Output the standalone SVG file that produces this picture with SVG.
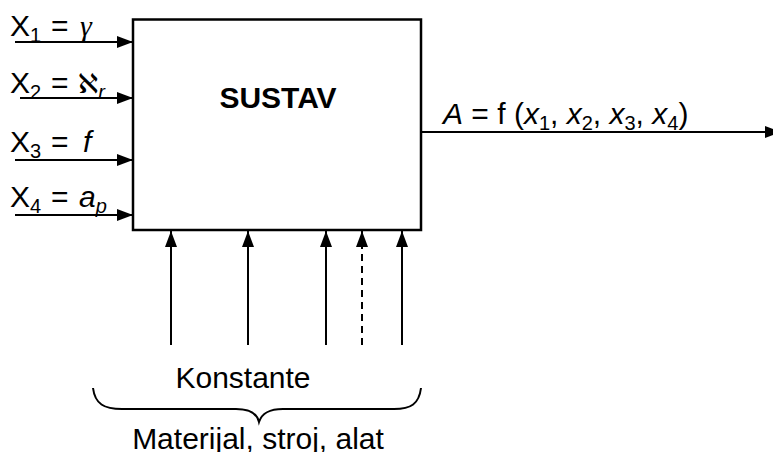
<svg xmlns="http://www.w3.org/2000/svg" width="773" height="452" viewBox="0 0 773 452">
<style>
.t{font-family:"Liberation Sans",Arial,sans-serif;font-size:30px;fill:#000}
.sub{font-size:20px}
.it{font-style:italic}
.ln{stroke:#000;stroke-width:2;fill:none}
</style>
<defs>
<marker id="ah" viewBox="0 0 16 12" refX="16" refY="6" markerWidth="16" markerHeight="12" markerUnits="userSpaceOnUse" orient="auto">
<path d="M0,0 L16,6 L0,12 z" fill="#000"/>
</marker>
</defs>
<rect width="773" height="452" fill="#fff"/>
<g id="sustav">
<rect x="133" y="19.5" width="288" height="210.5" fill="#fff" stroke="#000" stroke-width="2.5"/>
<text x="278" y="108" text-anchor="middle" style="font-family:'Liberation Sans',Arial,sans-serif;font-size:30px;font-weight:bold">SUSTAV</text>
</g>
<g id="connectors">
<line class="ln" x1="15" y1="42" x2="133" y2="42" marker-end="url(#ah)"/>
<line class="ln" x1="20" y1="98" x2="133" y2="98" marker-end="url(#ah)"/>
<line class="ln" x1="15" y1="160" x2="133" y2="160" marker-end="url(#ah)"/>
<line class="ln" x1="15" y1="215" x2="133" y2="215" marker-end="url(#ah)"/>
<line class="ln" x1="421" y1="132" x2="781" y2="132" marker-end="url(#ah)"/>
<line class="ln" x1="171" y1="345" x2="171" y2="231" marker-end="url(#ah)"/>
<line class="ln" x1="248" y1="345" x2="248" y2="231" marker-end="url(#ah)"/>
<line class="ln" x1="326" y1="345" x2="326" y2="231" marker-end="url(#ah)"/>
<line class="ln" x1="362" y1="345" x2="362" y2="231" stroke-dasharray="7,5" marker-end="url(#ah)"/>
<line class="ln" x1="402" y1="345" x2="402" y2="231" marker-end="url(#ah)"/>
</g>
<g id="inputs">
<text class="t" x="10" y="36">X<tspan class="sub" dy="6">1</tspan><tspan dy="-6" x="51">=</tspan><tspan x="80" style="font-family:'Liberation Serif',serif" class="it">γ</tspan></text>
<text class="t" x="10" y="93">X<tspan class="sub" dy="6">2</tspan><tspan dy="-6" x="51">=</tspan><tspan x="78" style="font-family:'DejaVu Sans',sans-serif;font-size:27px" class="it">ℵ</tspan><tspan class="sub it" dy="6">r</tspan></text>
<text class="t" x="10" y="152">X<tspan class="sub" dy="6">3</tspan><tspan dy="-6" x="51">=</tspan><tspan x="83" class="it">f</tspan></text>
<text class="t" x="10" y="207">X<tspan class="sub" dy="6">4</tspan><tspan dy="-6" x="51">=</tspan><tspan x="79" class="it">a</tspan><tspan class="sub it" dy="6">p</tspan></text>
</g>
<g id="output">
<text class="t" x="443" y="124"><tspan class="it">A</tspan> = f (<tspan class="it">x</tspan><tspan class="sub" dy="6">1</tspan><tspan dy="-6">, </tspan><tspan class="it">x</tspan><tspan class="sub" dy="6">2</tspan><tspan dy="-6">, </tspan><tspan class="it">x</tspan><tspan class="sub" dy="6">3</tspan><tspan dy="-6">, </tspan><tspan class="it">x</tspan><tspan class="sub" dy="6">4</tspan><tspan dy="-6">)</tspan></text>
</g>
<g id="konstante">
<text class="t" x="243" y="388" text-anchor="middle">Konstante</text>
<path class="ln" d="M93,388 C95,404 104,409 122,409 L236,409 C250,409 257,413 259,422 C262,413 269,409 283,409 L394,409 C411,409 419,404 421,388"/>
<text class="t" x="258" y="449" text-anchor="middle">Materijal, stroj, alat</text>
</g>
</svg>
